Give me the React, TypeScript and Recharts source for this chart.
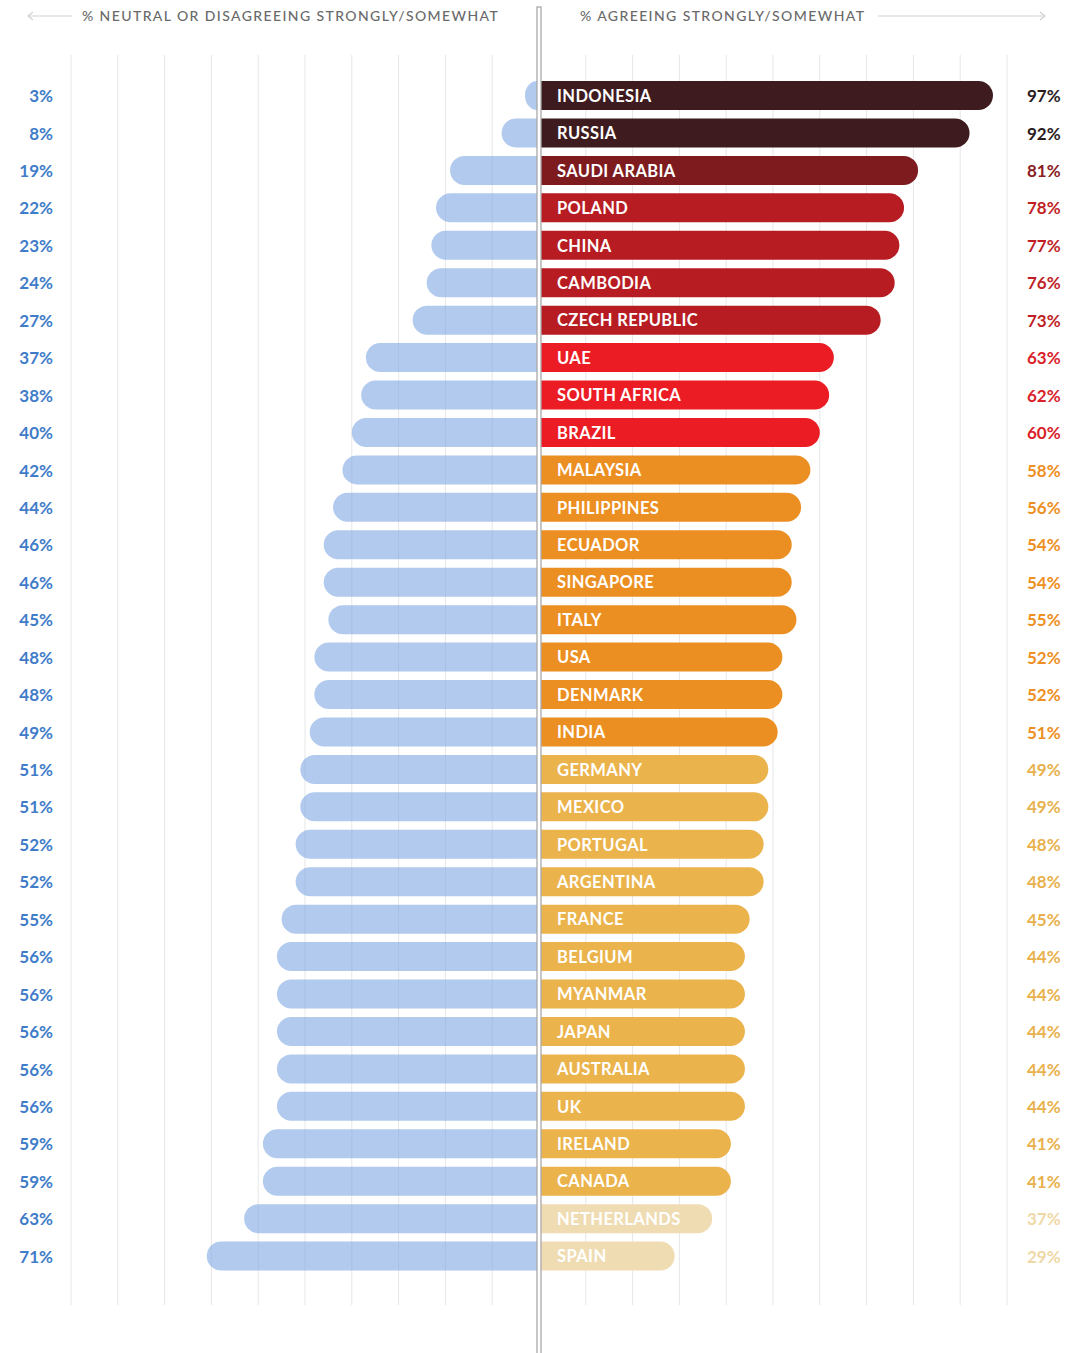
import React from "react";
import {
  Bar,
  BarChart,
  CartesianGrid,
  Cell,
  LabelList,
  ReferenceLine,
  XAxis,
  YAxis,
} from "recharts";

const countries = [
  "INDONESIA", "RUSSIA", "SAUDI ARABIA", "POLAND", "CHINA", "CAMBODIA",
  "CZECH REPUBLIC", "UAE", "SOUTH AFRICA", "BRAZIL", "MALAYSIA", "PHILIPPINES",
  "ECUADOR", "SINGAPORE", "ITALY", "USA", "DENMARK", "INDIA", "GERMANY",
  "MEXICO", "PORTUGAL", "ARGENTINA", "FRANCE", "BELGIUM", "MYANMAR", "JAPAN",
  "AUSTRALIA", "UK", "IRELAND", "CANADA", "NETHERLANDS", "SPAIN",
];

const agree = [
  97, 92, 81, 78, 77, 76, 73, 63, 62, 60, 58, 56, 54, 54, 55, 52, 52, 51, 49,
  49, 48, 48, 45, 44, 44, 44, 44, 44, 41, 41, 37, 29,
];

const neutral = [
  3, 8, 19, 22, 23, 24, 27, 37, 38, 40, 42, 44, 46, 46, 45, 48, 48, 49, 51, 51,
  52, 52, 55, 56, 56, 56, 56, 56, 59, 59, 63, 71,
];

// colour group of each country, index into the palettes below
const tiers = [
  0, 0, 1, 2, 2, 2, 2, 3, 3, 3, 4, 4, 4, 4, 4, 4, 4, 4, 5, 5, 5, 5, 5, 5, 5, 5,
  5, 5, 5, 5, 6, 6,
];

const barColors = ["#3d1b1e", "#7e1b1f", "#b71c22", "#eb1c24", "#ec8f22", "#ebb34b", "#efdcb3"];
const valueColors = ["#2b1c1e", "#8a1c22", "#c01f26", "#d9222a", "#ee8f22", "#e8b14d", "#f0d8a6"];

const domain = [-100, 100];
const ticks = [-100, -90, -80, -70, -60, -50, -40, -30, -20, -10, 0, 10, 20, 30, 40, 50, 60, 70, 80, 90, 100];

const data = countries.map((country, i) => ({
  country,
  agree: agree[i],
  neutral: -neutral[i],
}));

const FONT = "Lato, 'Open Sans', sans-serif";

function gridX({ xAxis, offset }: any) {
  if (xAxis && typeof xAxis.scale === "function") return ticks.map((t) => xAxis.scale(t));
  return ticks.map((t) => offset.left + ((t - domain[0]) / (domain[1] - domain[0])) * offset.width);
}

function LeftBar(props: any) {
  const { x, y, width, height, fill } = props;
  const x0 = Math.min(x, x + width);
  const w = Math.abs(width) - 2;
  if (w <= 0) return null;
  const r = Math.min(height / 2, w);
  const d = `M${x0 + r},${y} L${x0 + w},${y} L${x0 + w},${y + height} L${x0 + r},${y + height} A${r},${height / 2} 0 0 1 ${x0 + r},${y} Z`;
  return <path d={d} fill={fill} fillOpacity={0.6} />;
}

function RightBar(props: any) {
  const { x, y, width, height, fill } = props;
  const x0 = Math.min(x, x + width) + 2;
  const w = Math.abs(width) - 2;
  if (w <= 0) return null;
  const r = Math.min(height / 2, w);
  const d = `M${x0},${y} L${x0 + w - r},${y} A${r},${height / 2} 0 0 1 ${x0 + w - r},${y + height} L${x0},${y + height} Z`;
  return <path d={d} fill={fill} />;
}

function NameLabel(props: any) {
  const { x, y, width, height, value } = props;
  const x0 = Math.min(x, x + width);
  return (
    <text
      x={x0 + 18}
      y={y + height / 2}
      dy="0.38em"
      fill="#ffffff"
      fontFamily={FONT}
      fontWeight={700}
      fontSize={16.5}
      letterSpacing={0.4}
    >
      {value}
    </text>
  );
}

function LeftTick(props: any) {
  const { x, y, index } = props;
  return (
    <text
      x={x}
      y={y}
      dy="0.38em"
      textAnchor="end"
      fill="#3f7cc9"
      fontFamily={FONT}
      fontWeight={700}
      fontSize={17}
    >
      {neutral[index]}%
    </text>
  );
}

function RightTick(props: any) {
  const { x, y, index } = props;
  return (
    <text
      x={x}
      y={y}
      dy="0.38em"
      textAnchor="start"
      fill={valueColors[tiers[index]]}
      fontFamily={FONT}
      fontWeight={700}
      fontSize={17}
    >
      {agree[index]}%
    </text>
  );
}

function CenterLine(props: any) {
  const cx = props.x1 ?? 539;
  return (
    <rect
      x={cx - 2}
      y={7}
      width={4}
      height={1360}
      fill="#ffffff"
      stroke="#a9a9a9"
      strokeWidth={1.3}
    />
  );
}

function Header() {
  const textStyle: React.CSSProperties = {
    position: "absolute",
    top: 7,
    fontFamily: FONT,
    fontSize: 14,
    fontWeight: 500,
    color: "#6a6a6a",
    letterSpacing: 1.4,
    whiteSpace: "nowrap",
    lineHeight: "18px",
  };
  return (
    <>
      <div style={{ ...textStyle, left: 82 }}>% NEUTRAL OR DISAGREEING STRONGLY/SOMEWHAT</div>
      <div style={{ ...textStyle, left: 580 }}>% AGREEING STRONGLY/SOMEWHAT</div>
      <svg width={1081} height={30} style={{ position: "absolute", left: 0, top: 0, pointerEvents: "none" }}>
        <g stroke="#d2d2d2" strokeWidth={1.2} fill="none">
          <line x1={28} y1={16} x2={72} y2={16} />
          <polyline points="33,12 28,16 33,20" />
          <line x1={878} y1={16} x2={1045} y2={16} />
          <polyline points="1040,12 1045,16 1040,20" />
        </g>
      </svg>
    </>
  );
}

export default function App() {
  return (
    <div style={{ position: "relative", width: 1081, height: 1353, background: "#fff", overflow: "hidden" }}>
      <style>{"body{margin:0}"}</style>
      <BarChart
        width={1081}
        height={1353}
        data={data}
        layout="vertical"
        stackOffset="sign"
        margin={{ top: 55, right: 0, bottom: 48, left: 0 }}
      >
        <CartesianGrid
          horizontal={false}
          stroke="#e6e6e6"
          strokeWidth={1}
          verticalCoordinatesGenerator={gridX}
        />
        <XAxis
          type="number"
          domain={domain}
          ticks={ticks}
          tick={false}
          axisLine={false}
          tickLine={false}
          height={0}
        />
        <YAxis
          yAxisId="left"
          type="category"
          dataKey="country"
          orientation="left"
          width={71}
          axisLine={false}
          tickLine={false}
          tickMargin={12}
          interval={0}
          padding={{ top: 22, bottom: 30 }}
          tick={<LeftTick />}
        />
        <YAxis
          yAxisId="right"
          type="category"
          dataKey="country"
          orientation="right"
          width={74}
          axisLine={false}
          tickLine={false}
          tickMargin={14}
          interval={0}
          padding={{ top: 22, bottom: 30 }}
          tick={<RightTick />}
        />
        <Bar
          yAxisId="left"
          dataKey="neutral"
          stackId="a"
          barSize={29}
          fill="#7da7e3"
          shape={<LeftBar />}
          isAnimationActive={false}
        />
        <Bar
          yAxisId="left"
          dataKey="agree"
          stackId="a"
          barSize={29}
          shape={<RightBar />}
          isAnimationActive={false}
        >
          {data.map((d, i) => (
            <Cell key={d.country} fill={barColors[tiers[i]]} />
          ))}
          <LabelList dataKey="country" content={<NameLabel />} />
        </Bar>
        <ReferenceLine yAxisId="left" x={0} shape={<CenterLine />} ifOverflow="visible" />
      </BarChart>
      <Header />
    </div>
  );
}
